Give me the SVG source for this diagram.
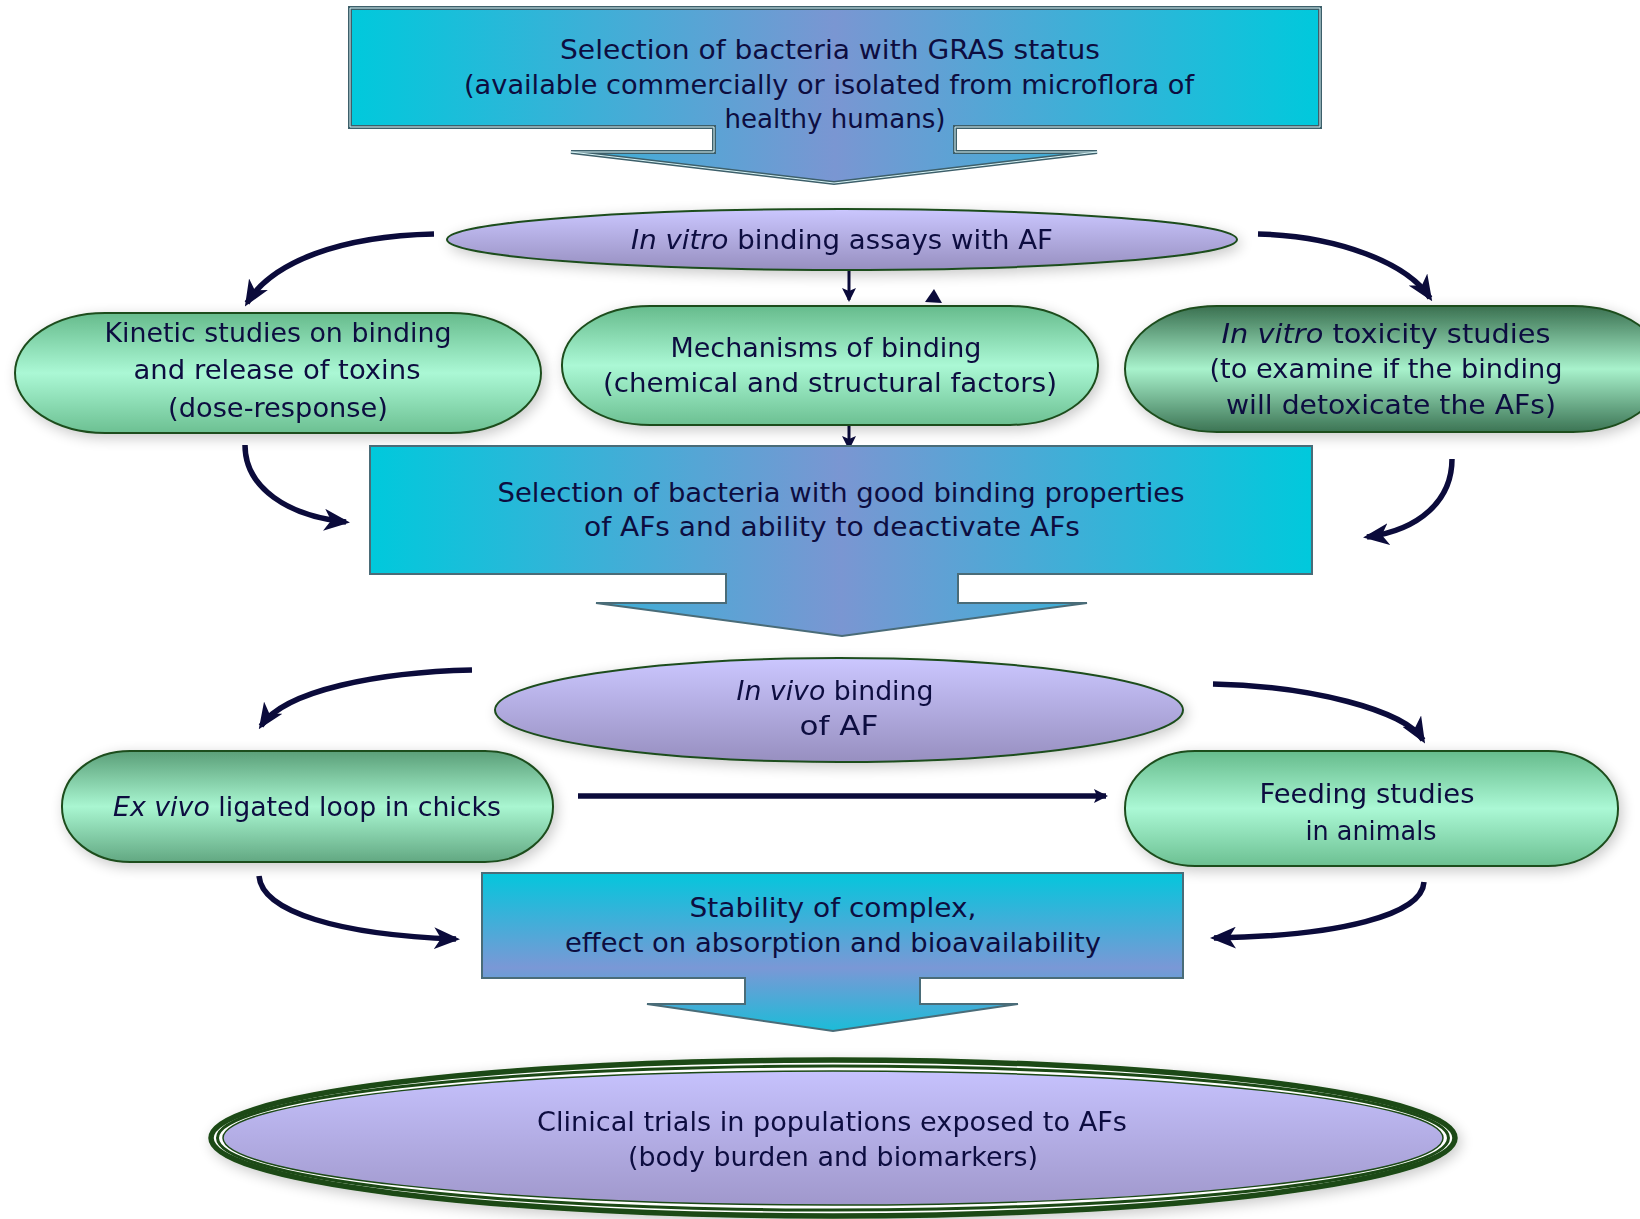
<svg xmlns="http://www.w3.org/2000/svg" width="1640" height="1219" viewBox="0 0 1640 1219">
<style>
text{font-family:"DejaVu Sans","Liberation Sans",sans-serif;font-size:27px;fill:#0d0d40;text-anchor:middle}
.it{font-style:italic}
.pill{stroke:#1e4d1e;stroke-width:2}
.ell{stroke:#1e4d1e;stroke-width:2}
.curve{fill:none;stroke:#0b0b3b;stroke-width:5.5;marker-end:url(#mCurve)}
.thin{fill:none;stroke:#0b0b3b;stroke-width:3;marker-end:url(#mSmall)}
.thick{fill:none;stroke:#0b0b3b;stroke-width:5.5;marker-end:url(#mSmall)}
</style>
<defs>
<filter id="sh" x="-10%" y="-30%" width="120%" height="160%">
<feGaussianBlur in="SourceAlpha" stdDeviation="7"/>
<feOffset dx="3" dy="4"/>
<feComponentTransfer><feFuncA type="linear" slope="0.22"/></feComponentTransfer>
<feMerge><feMergeNode/><feMergeNode in="SourceGraphic"/></feMerge>
</filter>
<linearGradient id="gTop" gradientUnits="userSpaceOnUse" x1="350" y1="0" x2="1320" y2="0">
<stop offset="0" stop-color="#00c9dc"/><stop offset="0.5" stop-color="#7a96d2"/><stop offset="1" stop-color="#00c9dc"/>
</linearGradient>
<linearGradient id="gSel" gradientUnits="userSpaceOnUse" x1="370" y1="0" x2="1312" y2="0">
<stop offset="0" stop-color="#00c9dc"/><stop offset="0.5" stop-color="#7a96d2"/><stop offset="1" stop-color="#00c9dc"/>
</linearGradient>
<linearGradient id="gStab" gradientUnits="userSpaceOnUse" x1="0" y1="873" x2="0" y2="1031">
<stop offset="0" stop-color="#04c6dc"/><stop offset="0.6" stop-color="#7a98d6"/><stop offset="1" stop-color="#1cbcd8"/>
</linearGradient>
<linearGradient id="gPill" x1="0" y1="0" x2="0" y2="1">
<stop offset="0" stop-color="#66bb8c"/><stop offset="0.5" stop-color="#abf8d5"/><stop offset="1" stop-color="#6cc092"/>
</linearGradient>
<linearGradient id="gPillMid" x1="0" y1="0" x2="0" y2="1">
<stop offset="0" stop-color="#5a9f78"/><stop offset="0.5" stop-color="#a9f6d1"/><stop offset="1" stop-color="#62a882"/>
</linearGradient>
<linearGradient id="gPillDark" x1="0" y1="0" x2="0" y2="1">
<stop offset="0" stop-color="#3a7050"/><stop offset="0.5" stop-color="#a8f2cc"/><stop offset="1" stop-color="#3c7454"/>
</linearGradient>
<linearGradient id="gLav" x1="0" y1="0" x2="0" y2="1">
<stop offset="0" stop-color="#cbc7ff"/><stop offset="1" stop-color="#978fc0"/>
</linearGradient>
<linearGradient id="gLav2" x1="0" y1="0" x2="0" y2="1">
<stop offset="0" stop-color="#c6c2fd"/><stop offset="1" stop-color="#a098cc"/>
</linearGradient>
<marker id="mCurve" markerUnits="userSpaceOnUse" viewBox="0 0 26 22" markerWidth="26" markerHeight="22" refX="22" refY="11" orient="auto">
<path d="M0,0 L26,11 L0,22 L7,11 Z" fill="#0b0b3b"/>
</marker>
<marker id="mSmall" markerUnits="userSpaceOnUse" viewBox="0 0 14 14" markerWidth="14" markerHeight="14" refX="12" refY="7" orient="auto">
<path d="M0,0 L14,7 L0,14 L3,7 Z" fill="#0b0b3b"/>
</marker>
</defs>

<g id="connectors">
<path class="curve" d="M434,234 C340,236 272,262 247,303"/>
<path class="curve" d="M1258,234 C1340,236 1408,264 1430,298"/>
<path class="thin" d="M849,270 V300"/>
<path class="thin" d="M849,418 V448"/>
<polygon points="934,289 925,302 942,303" fill="#0b0b3b"/>
<path class="curve" d="M245,445 C245,488 288,516 346,522"/>
<path class="curve" d="M1452,459 C1452,500 1420,530 1367,537"/>
<path class="curve" d="M472,670 C380,672 285,690 261,726"/>
<path class="curve" d="M1213,684 C1310,686 1405,710 1423,740"/>
<path class="thick" d="M578,796 H1106"/>
<path class="curve" d="M259,876 C262,912 340,935 456,939"/>
<path class="curve" d="M1424,882 C1422,915 1340,936 1214,938"/>
</g>

<g id="n-gras">
<path d="M350,8 H1320 V127 H955 V152 H1097 L834,183 L571,152 H714 V127 H350 Z" fill="url(#gTop)" stroke="#3d5f6a" stroke-width="4"/>
<path d="M350,8 H1320 V127 H955 V152 H1097 L834,183 L571,152 H714 V127 H350 Z" fill="none" stroke="#d8f4f6" stroke-width="1"/>
<text x="830" y="59" textLength="540" lengthAdjust="spacingAndGlyphs">Selection of bacteria with GRAS status</text>
<text x="829" y="94" textLength="730" lengthAdjust="spacingAndGlyphs">(available commercially or isolated from microflora of</text>
<text x="835" y="128" textLength="221" lengthAdjust="spacingAndGlyphs">healthy humans)</text>
</g>

<g id="n-invitro" filter="url(#sh)">
<ellipse class="ell" cx="842" cy="239.5" rx="395" ry="30.5" fill="url(#gLav)"/>
<text x="842" y="249" textLength="422" lengthAdjust="spacingAndGlyphs"><tspan class="it">In vitro</tspan> binding assays with AF</text>
</g>

<g id="n-kinetic" filter="url(#sh)">
<rect class="pill" x="15" y="313" width="526" height="120" rx="90" ry="60" fill="url(#gPill)"/>
<text x="278" y="342" textLength="347" lengthAdjust="spacingAndGlyphs">Kinetic studies on binding</text>
<text x="277" y="379" textLength="287" lengthAdjust="spacingAndGlyphs">and release of toxins</text>
<text x="278" y="417" textLength="220" lengthAdjust="spacingAndGlyphs">(dose-response)</text>
</g>

<g id="n-mech" filter="url(#sh)">
<rect class="pill" x="562" y="306" width="536" height="119" rx="88" ry="59" fill="url(#gPill)"/>
<text x="826" y="357" textLength="311" lengthAdjust="spacingAndGlyphs">Mechanisms of binding</text>
<text x="830" y="392" textLength="454" lengthAdjust="spacingAndGlyphs">(chemical and structural factors)</text>
</g>

<g id="n-tox" filter="url(#sh)">
<rect class="pill" x="1125" y="306" width="540" height="126" rx="92" ry="63" fill="url(#gPillDark)"/>
<text x="1386" y="343" textLength="329" lengthAdjust="spacingAndGlyphs"><tspan class="it">In vitro</tspan> toxicity studies</text>
<text x="1386" y="378" textLength="353" lengthAdjust="spacingAndGlyphs">(to examine if the binding</text>
<text x="1391" y="414" textLength="330" lengthAdjust="spacingAndGlyphs">will detoxicate the AFs)</text>
</g>

<g id="n-select">
<path d="M370,446 H1312 V574 H958 V603 H1087 L842,636 L596,603 H726 V574 H370 Z" fill="url(#gSel)" stroke="#4a6c78" stroke-width="2"/>
<text x="841" y="502" textLength="687" lengthAdjust="spacingAndGlyphs">Selection of bacteria with good binding properties</text>
<text x="832" y="536" textLength="496" lengthAdjust="spacingAndGlyphs">of AFs and ability to deactivate AFs</text>
</g>

<g id="n-invivo" filter="url(#sh)">
<ellipse class="ell" cx="839" cy="710" rx="344" ry="52" fill="url(#gLav)"/>
<text x="835" y="700" textLength="197" lengthAdjust="spacingAndGlyphs"><tspan class="it">In vivo</tspan> binding</text>
<text x="839" y="735" textLength="79" lengthAdjust="spacingAndGlyphs">of AF</text>
</g>

<g id="n-exvivo" filter="url(#sh)">
<rect class="pill" x="62" y="751" width="491" height="111" rx="68" ry="55" fill="url(#gPillMid)"/>
<text x="307" y="816" textLength="388" lengthAdjust="spacingAndGlyphs"><tspan class="it">Ex vivo</tspan> ligated loop in chicks</text>
</g>

<g id="n-feeding" filter="url(#sh)">
<rect class="pill" x="1125" y="751" width="493" height="115" rx="70" ry="57" fill="url(#gPill)"/>
<text x="1367" y="803" textLength="215" lengthAdjust="spacingAndGlyphs">Feeding studies</text>
<text x="1371" y="840" textLength="131" lengthAdjust="spacingAndGlyphs">in animals</text>
</g>

<g id="n-stability">
<path d="M482,873 H1183 V978 H920 V1004 H1018 L833,1031 L647,1004 H745 V978 H482 Z" fill="url(#gStab)" stroke="#4a6c78" stroke-width="2"/>
<text x="833" y="917" textLength="287" lengthAdjust="spacingAndGlyphs">Stability of complex,</text>
<text x="833" y="952" textLength="536" lengthAdjust="spacingAndGlyphs">effect on absorption and bioavailability</text>
</g>

<g id="n-clinical" filter="url(#sh)">
<ellipse cx="833" cy="1138" rx="622" ry="78" fill="#ffffff" stroke="#1b4a14" stroke-width="5.5"/>
<ellipse cx="833" cy="1138" rx="615.5" ry="72" fill="none" stroke="#1b4a14" stroke-width="3"/>
<ellipse cx="833" cy="1138" rx="610" ry="67" fill="url(#gLav2)" stroke="#1b4a14" stroke-width="1.5"/>
<text x="832" y="1131" textLength="590" lengthAdjust="spacingAndGlyphs">Clinical trials in populations exposed to AFs</text>
<text x="833" y="1166" textLength="410" lengthAdjust="spacingAndGlyphs">(body burden and biomarkers)</text>
</g>
</svg>
